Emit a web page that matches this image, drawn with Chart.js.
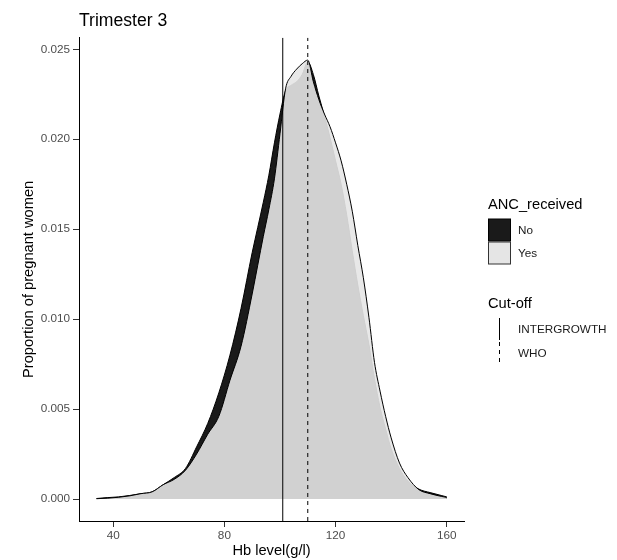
<!DOCTYPE html>
<html>
<head>
<meta charset="utf-8">
<script src="https://cdn.jsdelivr.net/npm/chart.js@4.4.0/dist/chart.umd.min.js"></script>
<style>
  body { margin: 0; background: #fff; }
  canvas { display: block; }
</style>
</head>
<body>
<canvas id="myChart" width="617" height="560"></canvas>
<script>
// Hb level grid (g/l) and density of each group
const hbLevels = [34, 38, 42, 46, 50, 54, 58, 62, 66, 70, 74, 78, 82, 86, 90, 92, 94, 96, 98, 100,
  102, 104, 106, 108, 110, 112, 114, 116, 118, 120, 122, 124, 126, 128, 130, 132, 134, 136, 138, 140,
  143, 146, 150, 154, 158, 160];
const densityNo = [0.00003, 0.00008, 0.00012, 0.0002, 0.0003, 0.0004, 0.0008, 0.0012, 0.0017, 0.0029,
  0.0042, 0.0059, 0.0080, 0.0106, 0.0137, 0.0151, 0.0165, 0.0180, 0.0198, 0.0214,
  0.0227, 0.0230, 0.0232, 0.0236, 0.0243, 0.0236, 0.0224, 0.0213, 0.0201, 0.0188,
  0.0175, 0.0158, 0.0138, 0.0119, 0.0102, 0.0086, 0.0067, 0.0051, 0.0039, 0.0028,
  0.0017, 0.0010, 0.00055, 0.00036, 0.0002, 0.00012];
const densityYes = [0.00002, 0.00005, 0.0001, 0.00018, 0.0003, 0.0004, 0.0008, 0.0011, 0.0016, 0.0025,
  0.0036, 0.0046, 0.0066, 0.0085, 0.0114, 0.0130, 0.0146, 0.0161, 0.0178, 0.0203,
  0.0228, 0.0235, 0.0239, 0.0242, 0.0244, 0.0232, 0.0222, 0.0214, 0.0207, 0.0198,
  0.0188, 0.0175, 0.0160, 0.0141, 0.0123, 0.0101, 0.0076, 0.0060, 0.0046, 0.0034,
  0.0020, 0.0012, 0.00052, 0.0003, 0.00015, 0.00009];

const ancGroups = ['No', 'Yes'];
const cutOffNames = ['INTERGROWTH', 'WHO'];
const cutOffValues = [101, 110];

const xTicks = [40, 80, 120, 160];
const yTicks = [0, 0.005, 0.010, 0.015, 0.020, 0.025];
const xRange = [27.7, 166.2];
const yRange = [-0.00122, 0.025645];

const FONT = "'Liberation Sans', Arial, sans-serif";
const noFill = '#1a1a1a';
const yesFill = 'rgba(229,229,229,0.9)';

const toPoints = (ys) => hbLevels.map((x, i) => ({ x: x, y: ys[i] }));
// a cut-off line goes from the bottom to the top of the panel
const cutLine = (v) => [{ x: v, y: yRange[0] }, { x: v, y: yRange[1] }];

// title + ggplot style legend, drawn on the canvas
const extras = {
  id: 'extras',
  afterDraw(chart) {
    const ctx = chart.ctx;
    ctx.save();
    ctx.textBaseline = 'middle';
    ctx.fillStyle = '#000';
    ctx.font = '17.6px ' + FONT;
    ctx.fillText('Trimester 3', chart.chartArea.left, 21);

    ctx.font = '14.67px ' + FONT;
    ctx.fillText('ANC_received', 488, 205);
    const fills = [noFill, '#e5e5e5'];
    ancGroups.forEach((g, i) => {
      const top = 219 + i * 23;
      ctx.fillStyle = fills[i];
      ctx.fillRect(488.5, top, 22, 22);
      ctx.strokeStyle = i === 0 ? '#000' : '#333';
      ctx.lineWidth = 1;
      ctx.strokeRect(488.5, top, 22, 22);
      ctx.fillStyle = '#1a1a1a';
      ctx.font = '11.73px ' + FONT;
      ctx.fillText(g, 518, top + 12);
    });

    ctx.fillStyle = '#000';
    ctx.font = '14.67px ' + FONT;
    ctx.fillText('Cut-off', 488, 304);
    cutOffNames.forEach((name, i) => {
      const top = 318 + i * 24;
      ctx.strokeStyle = '#000';
      ctx.lineWidth = 1;
      ctx.setLineDash(i === 0 ? [] : [4, 4]);
      ctx.beginPath();
      ctx.moveTo(499.5, top);
      ctx.lineTo(499.5, top + 22);
      ctx.stroke();
      ctx.setLineDash([]);
      ctx.fillStyle = '#1a1a1a';
      ctx.font = '11.73px ' + FONT;
      ctx.fillText(name, 518, top + 12);
    });
    ctx.restore();
  }
};

const ctx = document.getElementById('myChart').getContext('2d');
const chart = new Chart(ctx, {
  type: 'line',
  data: {
    datasets: [
      {
        label: ancGroups[0],
        data: toPoints(densityNo),
        backgroundColor: noFill,
        borderColor: '#000',
        borderWidth: 1,
        fill: 'origin',
        pointRadius: 0,
        cubicInterpolationMode: 'monotone',
        order: 4
      },
      {
        label: ancGroups[1],
        data: toPoints(densityYes),
        backgroundColor: yesFill,
        borderColor: '#000',
        borderWidth: 1,
        fill: 'origin',
        pointRadius: 0,
        cubicInterpolationMode: 'monotone',
        order: 3
      },
      {
        label: cutOffNames[0],
        data: cutLine(cutOffValues[0]),
        borderColor: '#000',
        borderWidth: 1,
        pointRadius: 0,
        fill: false,
        order: 2
      },
      {
        label: cutOffNames[1],
        data: cutLine(cutOffValues[1]),
        borderColor: '#000',
        borderWidth: 1,
        borderDash: [4, 4],
        pointRadius: 0,
        fill: false,
        order: 1
      }
    ]
  },
  options: {
    responsive: false,
    animation: false,
    layout: { padding: { left: 0, right: 153, top: 37.7, bottom: 0 } },
    plugins: {
      legend: { display: false },
      tooltip: { enabled: false },
      title: { display: false }
    },
    scales: {
      x: {
        type: 'linear',
        min: xRange[0],
        max: xRange[1],
        afterFit: (s) => { s.height = 39; },
        afterBuildTicks: (s) => { s.ticks = xTicks.map(v => ({ value: v })); },
        grid: { drawOnChartArea: false, tickLength: 6, color: '#333' },
        border: { display: true, color: '#000', width: 1 },
        ticks: { color: '#4d4d4d', padding: 2, font: { family: FONT, size: 11.73 } },
        title: {
          display: true, text: 'Hb level(g/l)', color: '#000',
          padding: { top: 0, bottom: 0 }, font: { family: FONT, size: 14.67 }
        }
      },
      y: {
        min: yRange[0],
        max: yRange[1],
        afterFit: (s) => { s.width = 79; },
        afterBuildTicks: (s) => { s.ticks = yTicks.map(v => ({ value: v })); },
        grid: { drawOnChartArea: false, tickLength: 6, color: '#333' },
        border: { display: true, color: '#000', width: 1 },
        ticks: {
          color: '#4d4d4d', padding: 3, font: { family: FONT, size: 11.73 },
          callback: (v) => v.toFixed(3)
        },
        title: {
          display: true, text: 'Proportion of pregnant women', color: '#000',
          padding: { top: 20, bottom: 0 }, font: { family: FONT, size: 14.67 }
        }
      }
    }
  },
  plugins: [extras]
});
</script>
</body>
</html>
